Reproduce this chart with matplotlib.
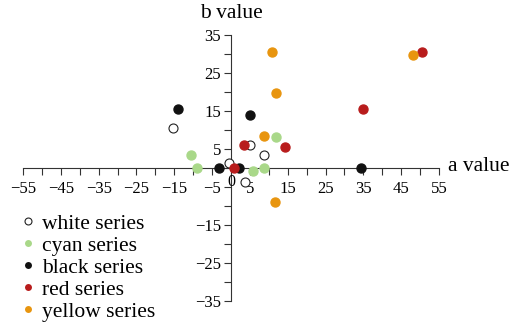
import matplotlib
matplotlib.use("Agg")
import matplotlib.pyplot as plt
from matplotlib.lines import Line2D

plt.rcParams['font.family'] = ['Liberation Serif', 'DejaVu Serif']

# a/b coordinates for each series
white_a = [-15.3, 5.0, 8.7, -0.6, 3.8]
white_b = [10.5, 6.1, 3.5, 1.4, -3.6]

cyan_a = [11.9, -10.5, -8.9, 5.9, 8.8]
cyan_b = [8.2, 3.5, 0.2, -0.7, 0.0]

black_a = [-14.1, 5.0, -3.1, 2.2, 34.3]
black_b = [15.7, 14.1, 0.0, 0.0, 0.1]

red_a = [3.5, 14.2, 0.9, 34.9, 50.6]
red_b = [6.1, 5.6, 0.0, 15.7, 30.7]

yellow_a = [10.9, 11.8, 8.7, 48.2, 11.6]
yellow_b = [30.5, 19.8, 8.6, 29.8, -8.8]

x_ticks = list(range(-55, 56, 5))
x_labels = [-55, -45, -35, -25, -15, -5, 5, 15, 25, 35, 45, 55]
y_ticks = list(range(-35, 36, 5))
y_labels = [-35, -25, -15, 5, 15, 25, 35]


def fmt(t, shown):
    if t not in shown:
        return ''
    return '\u2212' + str(-t) if t < 0 else str(t)


fig = plt.figure(figsize=(5.1, 3.22), dpi=100)
ax = fig.add_axes([0, 0, 1, 1])
ax.set_xlim(-61.1, 73.8)
ax.set_ylim(-40.4, 44.3)

axis_col = '#333333'
for side in ['left', 'bottom']:
    ax.spines[side].set_position(('data', 0))
    ax.spines[side].set_color(axis_col)
    ax.spines[side].set_linewidth(0.8)
ax.spines['right'].set_visible(False)
ax.spines['top'].set_visible(False)
ax.spines['bottom'].set_bounds(-55, 55)
ax.spines['left'].set_bounds(-35, 35)

ax.set_xticks(x_ticks)
ax.set_yticks(y_ticks)
ax.set_xticklabels([fmt(t, x_labels) for t in x_ticks])
ax.set_yticklabels([fmt(t, y_labels) for t in y_ticks])
ax.tick_params(axis='both', direction='out', length=5, width=0.8, color=axis_col,
               labelsize=12)
ax.tick_params(axis='x', pad=4)
ax.tick_params(axis='y', pad=2)

ax.text(0, -1.6, '0', ha='center', va='top', fontsize=11.5)
ax.text(0, 38.3, 'b value', ha='center', va='bottom', fontsize=15.5)
ax.text(57.5, 0.5, 'a value', ha='left', va='center', fontsize=15.5)

ms = 42
ax.scatter(white_a, white_b, s=ms, facecolor='white', edgecolor='#222222', linewidth=0.8, zorder=3)
ax.scatter(cyan_a, cyan_b, s=ms, color='#a9d889', zorder=3)
ax.scatter(black_a, black_b, s=ms, color='#111111', zorder=3)
ax.scatter(red_a, red_b, s=ms, color='#b81c1c', zorder=3)
ax.scatter(yellow_a, yellow_b, s=ms, color='#e8950f', zorder=3)

handles = [
    Line2D([], [], ls='none', marker='o', ms=5, mfc='white', mec='#222222', mew=0.8),
    Line2D([], [], ls='none', marker='o', ms=5, mfc='#a9d889', mec='none'),
    Line2D([], [], ls='none', marker='o', ms=5, mfc='#111111', mec='none'),
    Line2D([], [], ls='none', marker='o', ms=5, mfc='#b81c1c', mec='none'),
    Line2D([], [], ls='none', marker='o', ms=5, mfc='#e8950f', mec='none'),
]
names = ['white series', 'cyan series', 'black series', 'red series', 'yellow series']
ax.legend(handles, names, loc='upper left', bbox_to_anchor=(0.045, 0.337),
          frameon=False, fontsize=15.5, handlelength=0.5, handletextpad=0.4,
          labelspacing=0.09, borderpad=0, borderaxespad=0)

fig.savefig('out.png', dpi=100)
